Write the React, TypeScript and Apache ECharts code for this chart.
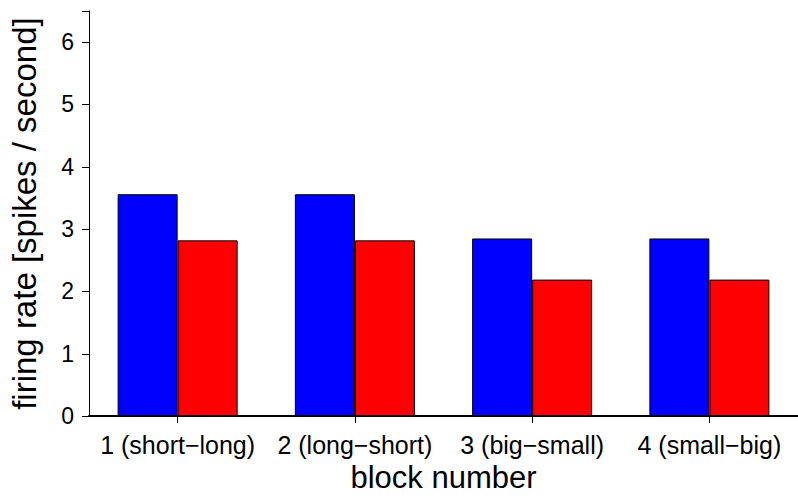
import React, { useEffect, useRef } from "react";
import * as echarts from "echarts";

const categories = ["1 (short−long)", "2 (long−short)", "3 (big−small)", "4 (small−big)"];
const blueValues = [3.56, 3.56, 2.85, 2.85];
const redValues = [2.82, 2.82, 2.19, 2.19];
const yTicks = [0, 1, 2, 3, 4, 5, 6];

const FONT = "'Liberation Sans', Arial, Helvetica, sans-serif";

export default function App() {
  const ref = useRef<HTMLDivElement>(null);
  useEffect(() => {
    document.body.style.margin = "0";
    if (!ref.current) return;
    const chart = echarts.init(ref.current, null, { renderer: "svg" });
    chart.setOption({
      animation: false,
      backgroundColor: "#ffffff",
      grid: { left: 88, top: 11, width: 717, height: 407, containLabel: false },
      xAxis: {
        type: "category",
        data: categories,
        boundaryGap: true,
        name: "block number",
        nameLocation: "middle",
        nameGap: 38,
        nameTextStyle: { fontFamily: FONT, fontSize: 31, color: "#000" },
        axisLine: { show: true, lineStyle: { color: "#000", width: 2 } },
        axisTick: { show: true, alignWithLabel: true, length: 7, lineStyle: { color: "#000", width: 1 } },
        axisLabel: { fontFamily: FONT, fontSize: 25, color: "#000", margin: 16, interval: 0 },
        splitLine: { show: false },
      },
      yAxis: {
        type: "value",
        min: 0,
        max: 6.5,
        interval: 1,
        name: "firing rate [spikes / second]",
        nameLocation: "middle",
        nameRotate: 90,
        nameGap: 48,
        nameTextStyle: { fontFamily: FONT, fontSize: 33, color: "#000" },
        axisLine: { show: true, lineStyle: { color: "#000", width: 1 } },
        axisTick: { show: true, length: 7, lineStyle: { color: "#000", width: 1 } },
        axisLabel: {
          fontFamily: FONT,
          fontSize: 23,
          color: "#000",
          margin: 15,
          formatter: (v: number) => (yTicks.includes(v) ? String(v) : ""),
        },
        splitLine: { show: false },
      },
      series: [
        {
          type: "bar",
          data: blueValues,
          barWidth: 60,
          barGap: "0%",
          itemStyle: { color: "#0000ff", borderColor: "#000", borderWidth: 1 },
        },
        {
          type: "bar",
          data: redValues,
          barWidth: 60,
          barGap: "0%",
          itemStyle: { color: "#ff0000", borderColor: "#000", borderWidth: 1 },
        },
      ],
    });
    return () => chart.dispose();
  }, []);
  return <div ref={ref} style={{ width: 798, height: 498 }} />;
}
